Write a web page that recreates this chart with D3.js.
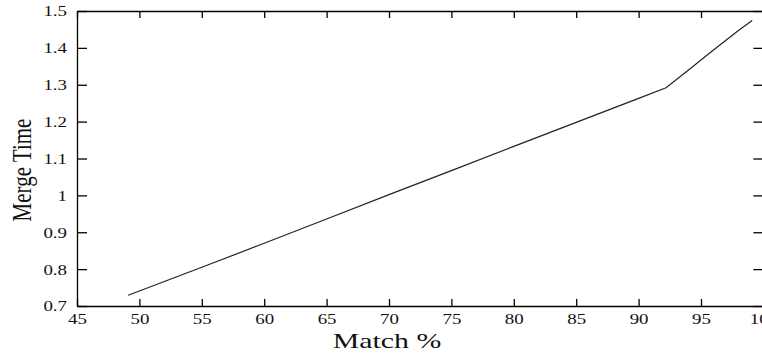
<!DOCTYPE html>
<html>
<head>
<meta charset="utf-8">
<script src="https://cdn.jsdelivr.net/npm/d3@7"></script>
<style>
  body { margin: 0; background: #fff; }
  svg { display: block; }
  .axis path, .axis line { stroke: #000; stroke-width: 1.3; }
  .axis text { font-family: "Liberation Serif", serif; font-size: 14px; fill: #111; }
  .title { font-family: "Liberation Serif", serif; font-size: 21px; fill: #111; }
</style>
</head>
<body>
<div id="chart"></div>
<script>
// values
var matchPct  = [49.1, 55, 60, 65, 70, 75, 80, 85, 90, 92.2, 94, 96, 98, 99.1];
var mergeTime = [0.729, 0.805, 0.870, 0.936, 1.002, 1.067, 1.133, 1.198, 1.263, 1.292, 1.340, 1.394, 1.447, 1.474];
var xTicks = [45, 50, 55, 60, 65, 70, 75, 80, 85, 90, 95, 100];
var yTicks = [0.7, 0.8, 0.9, 1, 1.1, 1.2, 1.3, 1.4, 1.5];

var width = 762, height = 353;
var margin = {top: 11, right: -1.4, bottom: 47, left: 77};
var stretch = 1.35; // the text in the picture is widened

var data = matchPct.map(function (m, i) { return {x: m, y: mergeTime[i]}; });

var svg = d3.select("#chart").append("svg")
    .attr("width", width)
    .attr("height", height);

var x = d3.scaleLinear()
    .domain([45, 100])
    .range([margin.left, width - margin.right]);

var y = d3.scaleLinear()
    .domain([0.7, 1.5])
    .range([height - margin.bottom, margin.top]);

// bottom axis, ticks point inward
var gx = svg.append("g")
    .attr("class", "axis")
    .attr("transform", "translate(0," + y(0.7) + ")")
    .call(d3.axisBottom(x).tickValues(xTicks).tickSize(-7).tickSizeOuter(0).tickFormat(d3.format("d")));
gx.selectAll("text")
    .attr("y", 0).attr("dy", 0)
    .attr("transform", "translate(0,18) scale(" + stretch + ",1)");

// left axis
var gy = svg.append("g")
    .attr("class", "axis")
    .attr("transform", "translate(" + x(45) + ",0)")
    .call(d3.axisLeft(y).tickValues(yTicks).tickSize(-10).tickSizeOuter(0).tickFormat(function (d) { return d3.format("~g")(d); }));
gy.selectAll("text")
    .attr("x", 0).attr("dy", "0.35em")
    .attr("transform", "translate(-10,0) scale(" + stretch + ",1)");

// top + right frame with inward ticks, no labels
svg.append("g")
    .attr("class", "axis")
    .attr("transform", "translate(0," + y(1.5) + ")")
    .call(d3.axisTop(x).tickValues(xTicks).tickSize(-7).tickSizeOuter(0).tickFormat(""));

svg.append("g")
    .attr("class", "axis")
    .attr("transform", "translate(" + x(100) + ",0)")
    .call(d3.axisRight(y).tickValues(yTicks).tickSize(-10).tickSizeOuter(0).tickFormat(""));

// the series
var line = d3.line()
    .x(function (d) { return x(d.x); })
    .y(function (d) { return y(d.y); });

svg.append("path")
    .datum(data)
    .attr("fill", "none")
    .attr("stroke", "#222")
    .attr("stroke-width", 1.2)
    .attr("d", line);

// axis titles
svg.append("text")
    .attr("class", "title")
    .attr("text-anchor", "middle")
    .attr("transform", "translate(387,348) scale(1.42,1)")
    .text("Match %");

svg.append("text")
    .attr("class", "title")
    .attr("text-anchor", "middle")
    .attr("transform", "translate(31,170) scale(" + stretch + ",1) rotate(-90)")
    .text("Merge Time");
</script>
</body>
</html>
